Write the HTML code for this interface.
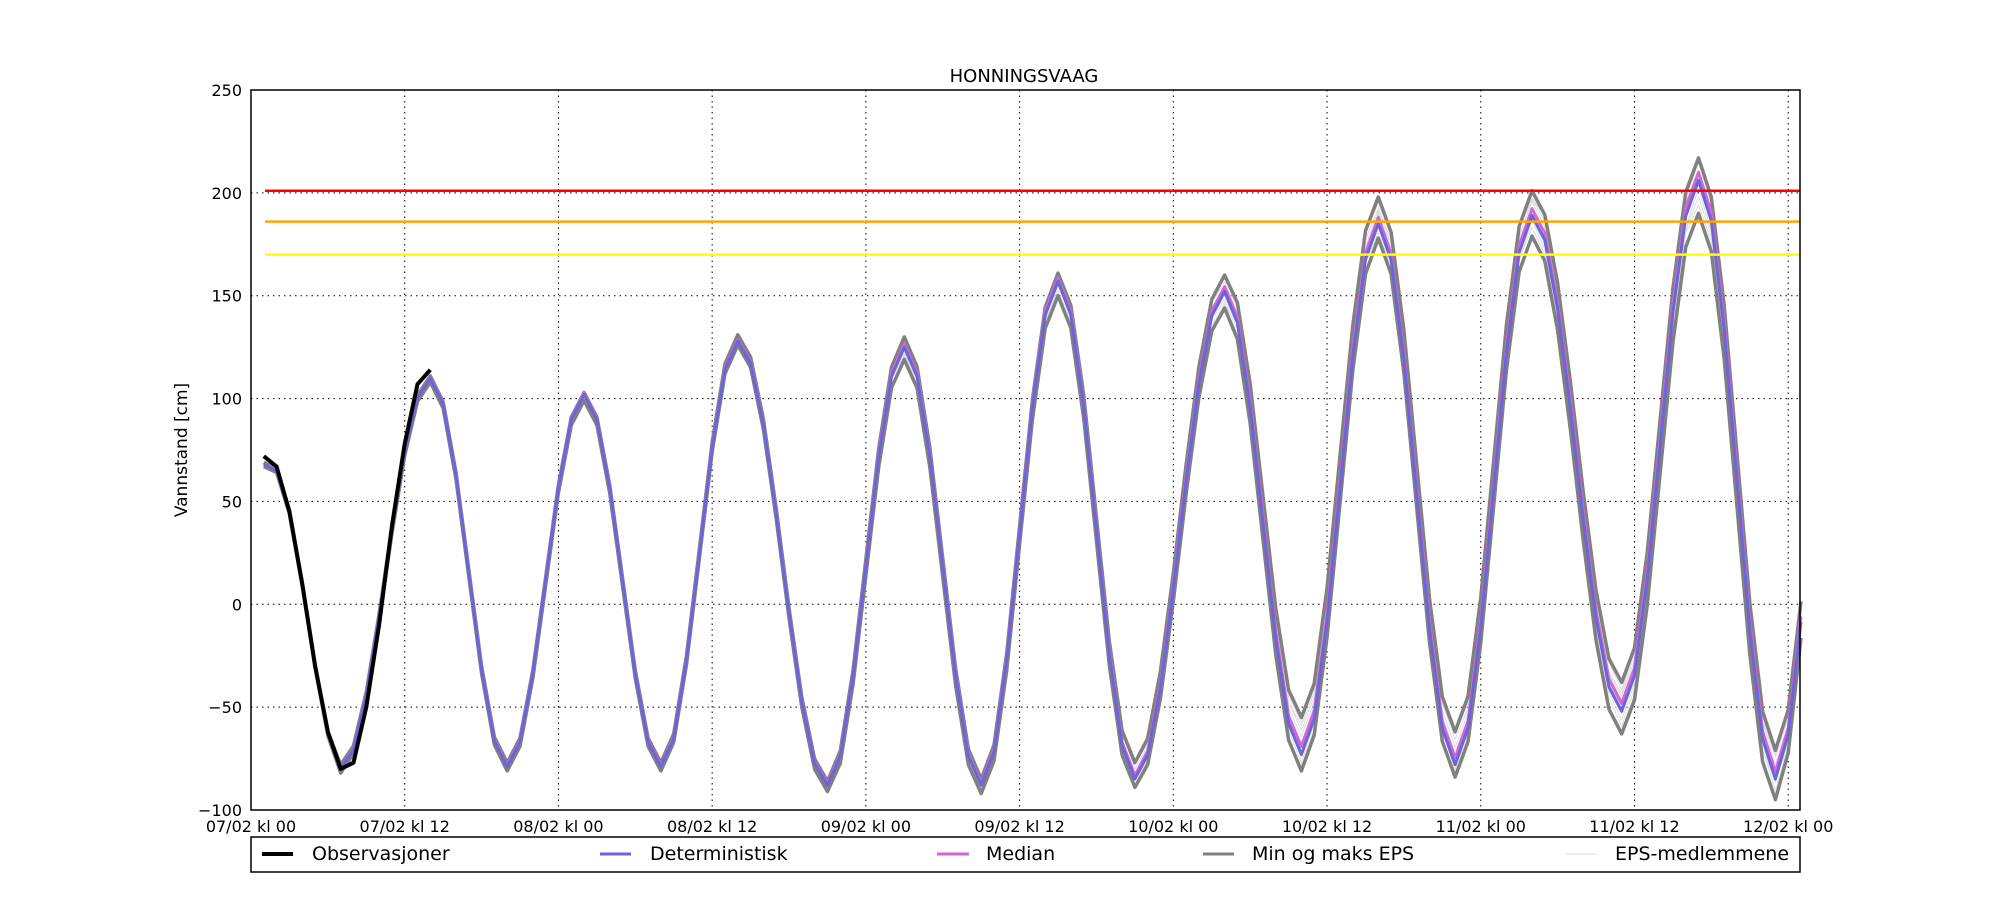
<!DOCTYPE html>
<html><head><meta charset="utf-8"><style>
body{margin:0;background:#fff;}
svg{display:block;font-family:"DejaVu Sans","Liberation Sans",sans-serif;}
</style></head><body>
<svg id="s" width="2000" height="900" xmlns="http://www.w3.org/2000/svg">
<rect width="2000" height="900" fill="#fff"/>
<g id="grid"></g>
<g id="data"></g>
<rect x="251" y="90" width="1549" height="720" fill="none" stroke="#000" stroke-width="1.5"/>
<g id="ticks" font-size="16"></g>
<text x="1024" y="82" font-size="18" text-anchor="middle">HONNINGSVAAG</text>
<text transform="translate(187,450) rotate(-90)" font-size="17" text-anchor="middle">Vannstand [cm]</text>
<rect x="251" y="837" width="1549" height="35" fill="#fff" stroke="#000" stroke-width="1.5"/>
<g font-size="19">
<line x1="262" y1="854" x2="293" y2="854" stroke="#000" stroke-width="4"/><text x="312" y="860">Observasjoner</text>
<line x1="600" y1="854" x2="631" y2="854" stroke="#6a65d8" stroke-width="3"/><text x="650" y="860">Deterministisk</text>
<line x1="937" y1="854" x2="969" y2="854" stroke="#d266d6" stroke-width="3"/><text x="986" y="860">Median</text>
<line x1="1203" y1="854" x2="1234" y2="854" stroke="#808080" stroke-width="3"/><text x="1252" y="860">Min og maks EPS</text>
<line x1="1566" y1="854" x2="1597" y2="854" stroke="#ddd" stroke-width="1"/><text x="1615" y="860">EPS-medlemmene</text>
</g>
</svg>
<script>
const X=t=>251+t*12.81, Y=v=>90+(250-v)*720/350;
const g=document.getElementById('grid'),tk=document.getElementById('ticks'),d=document.getElementById('data');
let h='',k='';
for(let v=-100;v<=250;v+=50){const y=Y(v);
 if(v>-100&&v<250)h+=`<line x1="251" x2="1800" y1="${y}" y2="${y}" stroke="#000" stroke-width="1" stroke-dasharray="1.5,4"/>`;
 k+=`<text x="242" y="${y+6}" text-anchor="end">${v<0?'\u2212'+(-v):v}</text>`;}
const lab=['07/02 kl 00','07/02 kl 12','08/02 kl 00','08/02 kl 12','09/02 kl 00','09/02 kl 12','10/02 kl 00','10/02 kl 12','11/02 kl 00','11/02 kl 12','12/02 kl 00'];
lab.forEach((l,i)=>{const x=X(i*12);
 if(i>0)h+=`<line x1="${x}" x2="${x}" y1="90" y2="810" stroke="#000" stroke-width="1" stroke-dasharray="1.5,4"/>`;
 k+=`<text x="${x}" y="832" text-anchor="middle">${l}</text>`;});
g.innerHTML=h;tk.innerHTML=k;
const E=[[7,-80,2,2],[14,110,1,2],[20,-79,2,2],[26,102,1,3],[32,-79,2,2],[38,128,3,2],[45,-88,2,3],[51,125,5,6],[57,-88,3,4],[63,157,4,7],[69,-85,8,4],[76,152,8,8],[82,-73,18,8],[88,185,13,7],[94,-78,16,6],[100,189,12,10],[107,-52,14,11],[113,206,11,16],[119,-85,14,10],[123.5,100,5,5]];
const early={1:[68,1,1],2:[65,1,1],3:[45,1,1],4:[10,1,1],5:[-30,1,1],6:[-63,1,1]};
const T=[],D=[],U=[],L=[];
for(let t=1;t<=121;t++){let v,u,dn;
 if(early[t]){[v,u,dn]=early[t];}
 else{let i=0;while(E[i+1][0]<t)i++;const a=E[i],b=E[i+1];const f=(t-a[0])/(b[0]-a[0]);
  v=a[1]+(b[1]-a[1])*(1-Math.cos(Math.PI*f))/2;u=a[2]+(b[2]-a[2])*f;dn=a[3]+(b[3]-a[3])*f;}
 T.push(t);D.push(v);U.push(v+u);L.push(v-dn);}
const path=(arr,c,w)=>`<polyline fill="none" stroke="${c}" stroke-width="${w}" stroke-linejoin="round" points="${arr.map((v,i)=>X(T[i]).toFixed(1)+','+Y(v).toFixed(1)).join(' ')}"/>`;
let s='';
for(let j=1;j<10;j++){const f=j/10;s+=path(D.map((v,i)=>L[i]+(U[i]-L[i])*f+Math.sin(i*j)*1.5),'#ddd',1);}
s+=path(U,'#808080',3.5)+path(L,'#808080',3.5);
s+=path(D.map((v,i)=>v+(U[i]-L[i])*0.15),'#d266d6',3);
s+=path(D,'#6a65d8',3);
const obs=[72,67,45,10,-30,-62,-80,-77,-50,-10,38,78,107,114];
s+=`<polyline fill="none" stroke="#000" stroke-width="4" stroke-linejoin="round" points="${obs.map((v,i)=>X(i+1).toFixed(1)+','+Y(v).toFixed(1)).join(' ')}"/>`;
[[201,'#ff0000'],[186,'#ffa500'],[170,'#ffff00']].forEach(([v,c])=>{s+=`<line x1="265" x2="1800" y1="${Y(v)}" y2="${Y(v)}" stroke="${c}" stroke-width="2.5"/>`;});
d.innerHTML=s;
</script>
</body></html>
